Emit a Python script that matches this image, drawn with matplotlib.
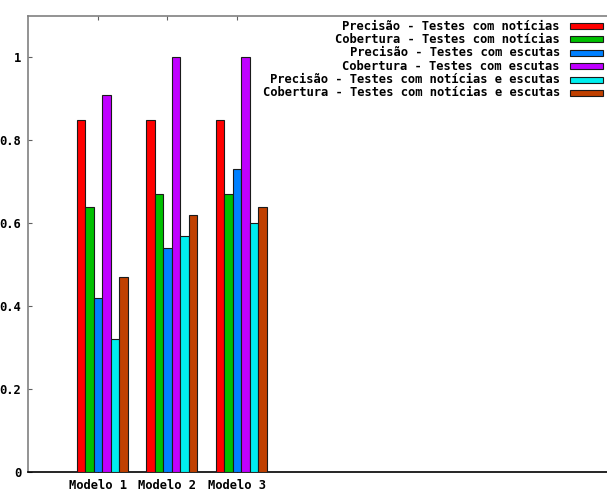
import matplotlib.pyplot as plt
from matplotlib.patches import Rectangle

# data
modelos = ["Modelo 1", "Modelo 2", "Modelo 3"]
series = [
    "Precisão - Testes com notícias",
    "Cobertura - Testes com notícias",
    "Precisão - Testes com escutas",
    "Cobertura - Testes com escutas",
    "Precisão - Testes com notícias e escutas",
    "Cobertura - Testes com notícias e escutas",
]
prec_noticias = [0.85, 0.85, 0.85]
cob_noticias = [0.64, 0.67, 0.67]
prec_escutas = [0.42, 0.54, 0.73]
cob_escutas = [0.91, 1.00, 1.00]
prec_ambos = [0.32, 0.57, 0.60]
cob_ambos = [0.47, 0.62, 0.64]
valores = [prec_noticias, cob_noticias, prec_escutas, cob_escutas, prec_ambos, cob_ambos]

cores = ["#ff0000", "#00c000", "#0080ff", "#c000ff", "#00eeee", "#c04000"]

W, H = 607, 491
fig = plt.figure(figsize=(W / 100, H / 100), dpi=100)
# axes run past the right edge like the cropped original
ax = fig.add_axes([28 / W, 19 / H, 620 / W, 456 / H])

fonte = dict(family="DejaVu Sans Mono", weight="bold", size=8.7)

x = [1, 2, 3]
largura = 0.122
for i, (vals, cor) in enumerate(zip(valores, cores)):
    pos = [c - 0.295 + i * largura for c in x]
    ax.bar(pos, vals, width=largura, align="edge", color=cor,
           edgecolor="#1a1a1a", linewidth=0.8, zorder=3)

ax.set_xlim(0, 620 / 69.5)
ax.set_ylim(0, 1.1)
ax.set_xticks(x)
ax.set_xticklabels(modelos, **fonte)
ax.set_yticks([0, 0.2, 0.4, 0.6, 0.8, 1.0])
ax.set_yticklabels(["0", "0.2", "0.4", "0.6", "0.8", "1"], **fonte)
ax.tick_params(axis="y", direction="in", length=3, width=0.8, color="#606060",
               pad=5, right=True)
ax.tick_params(axis="x", direction="in", length=3, width=0.8, color="#606060",
               pad=5, top=True)

for lado in ["left", "top", "right"]:
    ax.spines[lado].set_color("#808080")
    ax.spines[lado].set_linewidth(1.2)
ax.spines["bottom"].set_color("black")
ax.spines["bottom"].set_linewidth(1.2)

# legend drawn by hand: text right-aligned, key box on the right
for i, (nome, cor) in enumerate(zip(series, cores)):
    yc = 26 + i * 13.4
    fig.text(560 / W, 1 - yc / H, nome, ha="right", va="center", **fonte)
    fig.patches.append(Rectangle((570 / W, 1 - (yc + 3) / H), 33 / W, 6 / H,
                                 transform=fig.transFigure, facecolor=cor,
                                 edgecolor="#1a1a1a", linewidth=0.8))

fig.savefig("out.png", dpi=100)
